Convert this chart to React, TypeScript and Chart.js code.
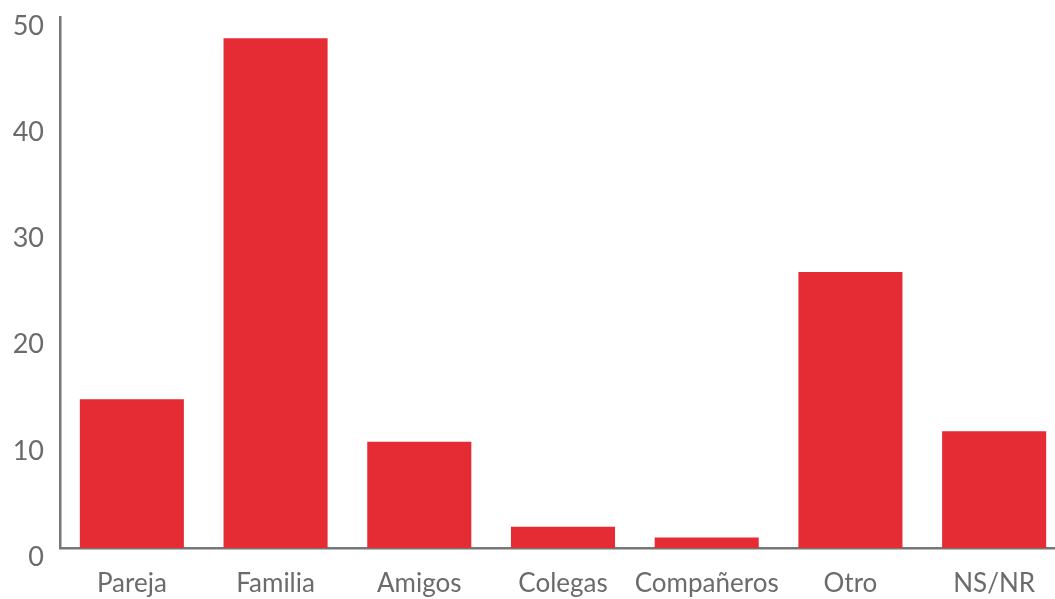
import React, { useEffect, useRef } from "react";
import { Chart, registerables } from "chart.js";

Chart.register(...registerables);

const categories = ["Pareja", "Familia", "Amigos", "Colegas", "Compañeros", "Otro", "NS/NR"];
const values = [14, 48, 10, 2, 1, 26, 11];
const yTicks = [0, 10, 20, 30, 40, 50];

const BAR = "#E52B33";
const AXIS = "#777777";
const TEXT = "#6b6b6b";
const FONT = "Lato, 'Noto Sans', sans-serif";

export default function App() {
  const ref = useRef<HTMLCanvasElement | null>(null);
  useEffect(() => {
    if (!ref.current) return;
    const chart = new Chart(ref.current, {
      type: "bar",
      data: {
        labels: categories,
        datasets: [
          {
            data: values,
            backgroundColor: BAR,
            borderWidth: 0,
            barPercentage: 0.724,
            categoryPercentage: 1,
          },
        ],
      },
      options: {
        responsive: false,
        animation: false,
        layout: { padding: { top: 17, right: 4, left: 0, bottom: 0 } },
        plugins: { legend: { display: false }, tooltip: { enabled: false } },
        scales: {
          x: {
            grid: { display: false, drawTicks: false },
            border: { display: true, color: AXIS, width: 2.5 },
            ticks: {
              color: TEXT,
              font: { family: FONT, size: 26 },
              padding: 20,
              maxRotation: 0,
              autoSkip: false,
            },
            afterFit: (s: any) => {
              s.height = 51;
              s.paddingLeft = 0;
              s.paddingRight = 0;
            },
          },
          y: {
            min: 0,
            max: 50,
            afterBuildTicks: (s: any) => {
              s.ticks = yTicks.map((v) => ({ value: v }));
            },
            grid: { display: false, drawTicks: false },
            border: { display: true, color: AXIS, width: 2.5 },
            ticks: {
              color: TEXT,
              font: { family: FONT, size: 27 },
              padding: 16,
              labelOffset: 9,
            },
            afterFit: (s: any) => {
              s.width = 60;
              s.paddingTop = 0;
              s.paddingBottom = 0;
            },
          },
        },
      },
    });
    return () => chart.destroy();
  }, []);
  return (
    <div
      style={{
        position: "absolute",
        left: 0,
        top: 0,
        width: 1055,
        height: 599,
        overflow: "hidden",
        background: "#ffffff",
      }}
    >
      <canvas ref={ref} width={1070} height={599} style={{ display: "block" }} />
    </div>
  );
}
